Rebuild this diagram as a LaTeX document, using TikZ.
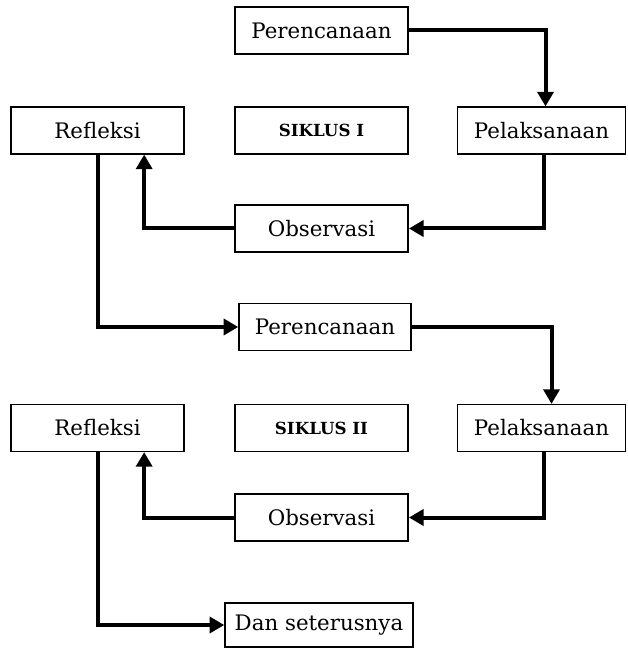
\documentclass[tikz,border=0pt]{standalone}
\usepackage{fontspec}
\setmainfont{DejaVu Serif}
\usetikzlibrary{arrows.meta}

\tikzset{
  kotak/.style={draw, line width=1.1pt, minimum width=130pt, minimum height=35pt,
    inner sep=0pt, font=\fontsize{16}{18}\selectfont},
  judul/.style={kotak, font=\fontsize{12.5}{14}\selectfont\bfseries},
  alur/.style={line width=3pt, -{Triangle[length=11pt,width=12pt]}}
}

\begin{document}
\begin{tikzpicture}[x=0.75pt, y=-0.75pt]
        \useasboundingbox (0,0) rectangle (627,648);

        % === Siklus I ===
        \node[kotak] (per1) at (321.5, 30.5) {Perencanaan};
        \node[kotak] (ref1) at (97.5, 130.5) {Refleksi};
        \node[judul] (sik1) at (321.5, 130.5) {SIKLUS I};
        \node[kotak, minimum width=126pt] (pel1) at (541.5, 130.5) {Pelaksanaan};
        \node[kotak] (obs1) at (321.5, 228.5) {Observasi};

        % Panah siklus I
        \draw[alur] (per1.east) -| ([xshift=3pt]pel1.north);
        \draw[alur] ([xshift=2pt]pel1.south) |- (obs1.east);
        \draw[alur] (obs1.west) -| ([xshift=35pt]ref1.south);

        % === Siklus II ===
        \node[kotak, minimum width=129pt] (per2) at (325, 327) {Perencanaan};
        \node[kotak] (ref2) at (97.5, 428) {Refleksi};
        \node[judul] (sik2) at (321.5, 428) {SIKLUS II};
        \node[kotak, minimum width=126pt] (pel2) at (541.5, 428) {Pelaksanaan};
        \node[kotak] (obs2) at (321.5, 517.5) {Observasi};

        % Panah siklus I ke siklus II
        \draw[alur] (ref1.south) |- (per2.west);

        % Panah siklus II
        \draw[alur] (per2.east) -| ([xshift=7.5pt]pel2.north);
        \draw[alur] ([xshift=2pt]pel2.south) |- (obs2.east);
        \draw[alur] (obs2.west) -| ([xshift=35pt]ref2.south);

        % === Lanjutan ===
        \node[kotak, minimum width=141pt, minimum height=33pt] (dan) at (319, 625) {Dan seterusnya};
        \draw[alur] (ref2.south) |- (dan.west);

    \end{tikzpicture}
\end{document}
